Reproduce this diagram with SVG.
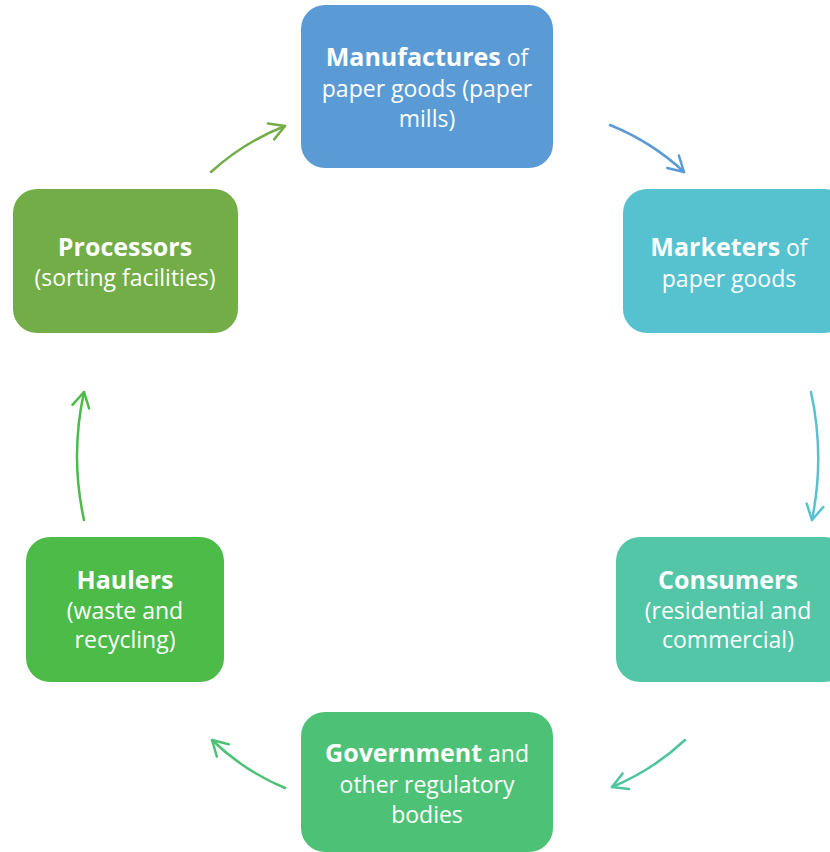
<svg xmlns="http://www.w3.org/2000/svg" width="830" height="852" viewBox="0 0 830 852">
<defs>
<style>
.t{font-family:"Open Sans","Noto Sans",sans-serif;font-size:23px;fill:#ffffff;text-anchor:middle}
.b{font-weight:bold;font-size:25px}
.c{fill:none;stroke-width:2.5;stroke-linecap:round}
.h{fill:none;stroke-width:2.5;stroke-linecap:round;stroke-linejoin:round}
</style>
<marker id="ab" viewBox="-18 -11 20 22" refX="0" refY="0" markerWidth="20" markerHeight="22" markerUnits="userSpaceOnUse" orient="auto"><path class="h" d="M-15,-8.5 L0,0 L-15,8.5" stroke="#5B9BD5"/></marker>
<marker id="at" viewBox="-18 -11 20 22" refX="0" refY="0" markerWidth="20" markerHeight="22" markerUnits="userSpaceOnUse" orient="auto"><path class="h" d="M-15,-8.5 L0,0 L-15,8.5" stroke="#56C1CF"/></marker>
<marker id="ag" viewBox="-18 -11 20 22" refX="0" refY="0" markerWidth="20" markerHeight="22" markerUnits="userSpaceOnUse" orient="auto"><path class="h" d="M-15,-8.5 L0,0 L-15,8.5" stroke="#4EC4A0"/></marker>
<marker id="ag2" viewBox="-18 -11 20 22" refX="0" refY="0" markerWidth="20" markerHeight="22" markerUnits="userSpaceOnUse" orient="auto"><path class="h" d="M-15,-8.5 L0,0 L-15,8.5" stroke="#4DC276"/></marker>
<marker id="ag3" viewBox="-18 -11 20 22" refX="0" refY="0" markerWidth="20" markerHeight="22" markerUnits="userSpaceOnUse" orient="auto"><path class="h" d="M-15,-8.5 L0,0 L-15,8.5" stroke="#4CBB48"/></marker>
<marker id="ag4" viewBox="-18 -11 20 22" refX="0" refY="0" markerWidth="20" markerHeight="22" markerUnits="userSpaceOnUse" orient="auto"><path class="h" d="M-15,-8.5 L0,0 L-15,8.5" stroke="#72AD48"/></marker>
</defs>
<rect width="830" height="852" fill="#ffffff"/>
<g id="connectors">
<path class="c" d="M211,172 Q244,142 285,126" stroke="#72AD48" marker-end="url(#ag4)"/>
<path class="c" d="M610,125 Q652,142 684,172" stroke="#5B9BD5" marker-end="url(#ab)"/>
<path class="c" d="M811,392 Q825,456 812,520" stroke="#56C1CF" marker-end="url(#at)"/>
<path class="c" d="M685,740 Q653,770 612,787" stroke="#4EC4A0" marker-end="url(#ag)"/>
<path class="c" d="M285,788 Q244,771 212,740" stroke="#4DC276" marker-end="url(#ag2)"/>
<path class="c" d="M84,520 Q70,456 84,392" stroke="#4CBB48" marker-end="url(#ag3)"/>
</g>
<g id="manufactures">
<rect x="301" y="5" width="252" height="163" rx="24" fill="#5B9BD5"/>
<text class="t" x="427" y="66"><tspan class="b">Manufactures</tspan> of</text>
<text class="t" x="427" y="97">paper goods (paper</text>
<text class="t" x="427" y="127">mills)</text>
</g>
<g id="marketers">
<rect x="623" y="189" width="225" height="144" rx="24" fill="#56C1CF"/>
<text class="t" x="729" y="256"><tspan class="b">Marketers</tspan> of</text>
<text class="t" x="729" y="287">paper goods</text>
</g>
<g id="consumers">
<rect x="616" y="537" width="232" height="145" rx="24" fill="#52C6A6"/>
<text class="t b" x="728" y="589">Consumers</text>
<text class="t" x="728" y="619">(residential and</text>
<text class="t" x="728" y="648">commercial)</text>
</g>
<g id="government">
<rect x="301" y="712" width="252" height="140" rx="24" fill="#4DC276"/>
<text class="t" x="427" y="762"><tspan class="b">Government</tspan> and</text>
<text class="t" x="427" y="793">other regulatory</text>
<text class="t" x="427" y="823">bodies</text>
</g>
<g id="haulers">
<rect x="26" y="537" width="198" height="145" rx="24" fill="#4CBB48"/>
<text class="t b" x="125" y="589">Haulers</text>
<text class="t" x="125" y="619">(waste and</text>
<text class="t" x="125" y="648">recycling)</text>
</g>
<g id="processors">
<rect x="13" y="189" width="225" height="144" rx="24" fill="#72AD48"/>
<text class="t b" x="125" y="256">Processors</text>
<text class="t" x="125" y="286">(sorting facilities)</text>
</g>
</svg>
